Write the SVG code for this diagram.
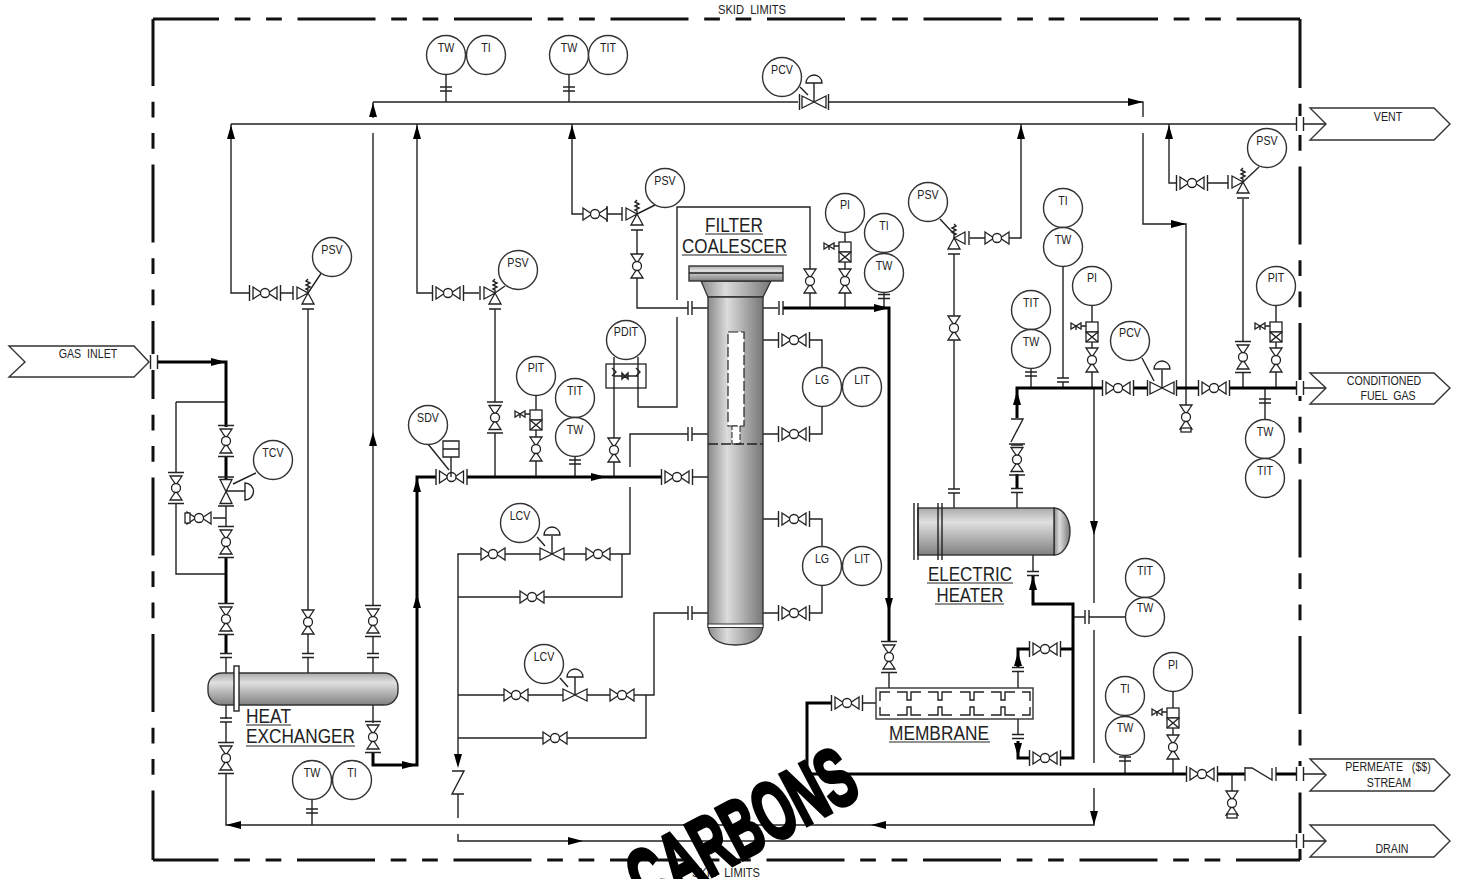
<svg xmlns="http://www.w3.org/2000/svg" xmlns:xlink="http://www.w3.org/1999/xlink" width="1457" height="879" viewBox="0 0 1457 879">
<style>
.t{fill:none;stroke:#222;stroke-width:1.4}
.k{fill:none;stroke:#000;stroke-width:3}
.s{fill:#fff;stroke:#222;stroke-width:1.3}
.b{fill:none;stroke:#111;stroke-width:3}
.o{fill:#fff;stroke:#333;stroke-width:1.4}
.e{stroke:#222;stroke-width:1.4}
text{font-family:"Liberation Sans",Arial,sans-serif;fill:#222;text-anchor:middle}
.i,.l{font-size:13px;transform-box:fill-box;transform-origin:center;transform:scaleX(.82)}
.sk{font-size:13px}
.h{font-size:20px}
.u{fill:none;stroke:#222;stroke-width:1.2}
</style>
<defs>
<linearGradient id="gv" x1="0" y1="0" x2="0" y2="1"><stop offset="0" stop-color="#aaa"/><stop offset=".3" stop-color="#e0e0e0"/><stop offset="1" stop-color="#808080"/></linearGradient>
<linearGradient id="gh" x1="0" y1="0" x2="1" y2="0"><stop offset="0" stop-color="#8a8a8a"/><stop offset=".35" stop-color="#dcdcdc"/><stop offset="1" stop-color="#777"/></linearGradient>
<g id="v"><path class="s" d="M-12,-6L-3,0L-12,6ZM12,-6L3,0L12,6Z"/><circle class="s" r="4.5"/></g>
<g id="vf"><use href="#v"/><path class="t" d="M-15.5,-8V8M15.5,-8V8"/></g>
<g id="vv"><use href="#v" transform="rotate(90)"/></g>
<g id="vfv"><use href="#vf" transform="rotate(90)"/></g>
<g id="c"><path class="s" d="M-12,-6L0,0L-12,6ZM12,-6L0,0L12,6Z"/></g>
<g id="cf"><use href="#c"/><path class="t" d="M-14.5,-8V8M14.5,-8V8"/></g>
<path id="dome" class="s" d="M-8,0a8,8 0 0 1 16,0Z"/>
<path id="fl" class="t" d="M-2,-7V7M2,-7V7"/>
<path id="fv" class="t" d="M-6,-2H6M-6,2H6"/>
<g id="fw"><rect x="-3.5" y="-8" width="7" height="16" fill="#fff"/><path class="t" d="M-3.5,-7V7M3.5,-7V7"/></g>
<polygon id="au" points="0,0 -4,14 4,14" fill="#000"/>
<polygon id="ad" points="0,0 -4,-14 4,-14" fill="#000"/>
<polygon id="ar" points="0,0 -15,-4 -15,4" fill="#000"/>
<polygon id="al" points="0,0 15,-4 15,4" fill="#000"/>
<g id="gb"><rect class="s" x="-6" y="0" width="12" height="10"/><rect class="s" x="-6" y="10" width="12" height="10"/><path class="t" d="M-6,10L6,20M6,10L-6,20M-6,4H-11"/><path class="s" d="M-21,0L-11,6V0L-21,6Z" transform="translate(0,1)"/><path class="t" d="M-16,4V8"/></g>
<g id="rv"><path class="s" d="M-11,-6L0,0L-11,6ZM-6,11L0,0L6,11Z"/><path class="t" d="M-15,-7V7M-6,16H6M0,0V-3L-2,-4L2,-6L-2,-8L2,-10L-2,-12L0,-14"/></g>
<path id="ck" class="t" d="M-6,-12H6L-6,11H6"/>
</defs>

<g id="skid-limits">
<path class="b" stroke-dasharray="78 15.7 15.7 15.7 15.7 15.7" stroke-dashoffset="12" d="M153,19H1300"/>
<path class="b" stroke-dasharray="78 15.7 15.7 15.7 15.7 15.7" stroke-dashoffset="11" d="M153,19V860"/>
<path class="b" stroke-dasharray="78 15.7 15.7 15.7 15.7 15.7" stroke-dashoffset="9" d="M1300,19V860"/>
<path class="b" stroke-dasharray="78 15.7 15.7 15.7 15.7 15.7" stroke-dashoffset="14" d="M1300,860H153"/>
<text class="sk" x="752" y="14" textLength="68" lengthAdjust="spacingAndGlyphs" xml:space="preserve">SKID  LIMITS</text>
<text class="sk" x="726" y="877" textLength="68" lengthAdjust="spacingAndGlyphs" xml:space="preserve">SKID  LIMITS</text>
</g>

<g id="connectors">
<path class="t" d="M231,124H1296M1304,124H1326M373,102H798M829,102H1143V117M1143,133V224H1186V405M373,102V118M373,133V606M373,637V653M373,658V673M231,124V293H250M280,293H293M308,309V610M308,634V653M308,658V673M417,124V293H433M463,293H479M495,309V402M495,433V477M572,124V214H583M607,206V222M607,214H622M637,230V254M637,278V308H688M692,308H708M176,402H226M176,402V473M176,503V574H226M226,506V526M226,518H213M226,558V603M226,658V673M226,705V719M226,722V743M226,773V825H1094V788M1094,763V630M1094,603V388M373,705V723M692,477H708M763,308H778M889,672V688M810,308V293M810,269V207H677V300M677,317V407H638V357M845,308V293M845,269V262M845,242V232M884,293V308M763,340H779M810,340H822V367M822,407V434H810M779,434H763M763,519H779M810,519H822V546M822,586V613H810M779,613H763M630,467V434H688M692,434H708M630,487V554H610M586,554H564M540,554H505M481,554H458V755M622,554V597H544M520,597H458M708,613H692M688,613H654V695H634M610,695H587M563,695H528M504,695H458M646,695V738H567M543,738H458M458,794V818M458,834V841H1297M1304,841H1326M954,508V493M954,489V340M954,316V254M970,238H985M1009,238H1021V124M1017,508V493M1304,388H1326M1033,555V572M1018,735V719M1018,671V688M1073,617H1085M1089,617H1125M876,703H862M1304,774H1326M1232,774V791M446,75V102M569,75V102M1031,369V388M1063,267V378M1063,382V388M1092,342V348M1092,372V388M1092,306V322M1276,306V322M1276,342V348M1276,372V388M1243,199V342M1243,372V388M1169,124V183H1177M1207,183H1228M1186,388V405M1265,388V419M1173,692V708M1173,728V735M1173,759V774M1125,756V774M536,395V410M536,430V437M536,461V477M575,457V477M312,800V825M614,357V438M614,462V477M552,554V536M575,695V677M814,102V83M1162,388V370"/>
<path class="k" d="M158,362H226V427M226,456V479M226,558V603M226,635V653M373,752V765H417V477H436M467,477H661M783,308H889V641M1017,488V474M1017,418V388H1103M1133,388H1147M1176,388H1198M1229,388H1296M1033,576V604H1073V758H1061M1030,758H1018V741M1073,649H1061M1030,649H1018V667M831,703H807V774H1187M1217,774H1245M1276,774H1296"/>
<use href="#ar" x="226" y="362"/><use href="#au" x="231" y="125"/><use href="#au" x="417" y="125"/><use href="#au" x="572" y="125"/><use href="#au" x="373" y="103"/><use href="#ar" x="1143" y="102"/><use href="#au" x="1021" y="125"/><use href="#au" x="1169" y="125"/><use href="#ar" x="1186" y="224"/><use href="#au" x="373" y="432"/><use href="#au" x="417" y="478"/><use href="#au" x="417" y="594"/><use href="#ar" x="417" y="765"/><use href="#ar" x="606" y="477"/><use href="#ar" x="889" y="308"/><use href="#ad" x="889" y="612"/><use href="#ad" x="458" y="768"/><use href="#ar" x="583" y="841"/><use href="#al" x="226" y="825"/><use href="#al" x="871" y="825"/><use href="#ad" x="1094" y="825"/><use href="#ad" x="1094" y="535"/><use href="#au" x="1017" y="391"/><use href="#au" x="1033" y="576"/><use href="#au" x="1018" y="652"/><use href="#ad" x="1018" y="757"/>
<use href="#fv" x="226" y="655.5"/><use href="#fv" x="308" y="655.5"/><use href="#fv" x="373" y="655.5"/><use href="#fv" x="226" y="720"/><use href="#fv" x="446" y="89"/><use href="#fv" x="569" y="89"/><use href="#fv" x="312" y="811"/><use href="#fv" x="575" y="462"/><use href="#fv" x="884" y="296.5"/><use href="#fv" x="954" y="491"/><use href="#fv" x="1017" y="490.5"/><use href="#fv" x="1033" y="573.5"/><use href="#fv" x="1018" y="736.5"/><use href="#fv" x="1018" y="669.5"/><use href="#fv" x="1031" y="374"/><use href="#fv" x="1063" y="380"/><use href="#fv" x="1265" y="401"/><use href="#fv" x="1125" y="759"/>
<use href="#fl" x="690" y="308"/><use href="#fl" x="690" y="434"/><use href="#fl" x="690" y="613"/><use href="#fl" x="781" y="308"/><use href="#fl" x="1087" y="617"/>
<use href="#fw" x="154" y="362"/><use href="#fw" x="1300" y="124"/><use href="#fw" x="1300" y="388"/><use href="#fw" x="1300" y="774"/><use href="#fw" x="1300" y="841"/>
<use href="#ck" x="458" y="783"/><path class="t" d="M1011,419H1023L1011,442M1011,445H1023"/>
</g>

<g id="valves">
<use id="v01" href="#vfv" x="226" y="441"/><use id="v02" href="#vfv" x="226" y="542"/><use id="v03" href="#vfv" x="226" y="619"/><use id="v04" href="#vfv" x="226" y="758"/><use id="v05" href="#vfv" x="176" y="488"/><use id="v06" href="#vv" x="308" y="622"/><use id="v07" href="#vfv" x="373" y="621"/><use id="v08" href="#vfv" x="373" y="737"/>
<use id="v09" href="#vf" x="265" y="293"/><use id="v10" href="#vf" x="448" y="293"/><use id="v11" href="#v" x="595" y="214"/><use id="v12" href="#vfv" x="495" y="417.5"/><use id="v13" href="#vv" x="637" y="266"/><use id="v14" href="#vf" x="451.5" y="477"/><use id="v15" href="#vf" x="677" y="477"/><use id="v16" href="#vv" x="536" y="449"/><use id="v17" href="#vv" x="614" y="450"/>
<use id="v18" href="#vv" x="810" y="281"/><use id="v19" href="#vv" x="845" y="281"/><use id="v20" href="#vf" x="794" y="340"/><use id="v21" href="#vf" x="794" y="434"/><use id="v22" href="#vf" x="794" y="519"/><use id="v23" href="#vf" x="794" y="613"/>
<use id="v24" href="#v" x="493" y="554"/><use id="v25" href="#v" x="598" y="554"/><use id="v26" href="#v" x="532" y="597"/><use id="v27" href="#v" x="516" y="695"/><use id="v28" href="#v" x="622" y="695"/><use id="v29" href="#v" x="555" y="738"/>
<use id="v30" href="#vfv" x="889" y="657"/><use id="v31" href="#vv" x="954" y="328"/><use id="v32" href="#v" x="997" y="238"/><use id="v33" href="#vfv" x="1017" y="459.5"/><use id="v34" href="#vf" x="1118" y="388"/><use id="v35" href="#vf" x="1214" y="388"/><use id="v36" href="#vv" x="1092" y="360"/><use id="v37" href="#vv" x="1276" y="360"/><use id="v38" href="#vfv" x="1243" y="357"/><use id="v39" href="#vf" x="1192" y="183"/><use id="v40" href="#vv" x="1186" y="417"/><use id="v41" href="#vf" x="1045" y="649"/><use id="v42" href="#vf" x="1045" y="758"/><use id="v43" href="#vf" x="847" y="703"/><use id="v44" href="#vf" x="1202" y="774"/><use id="v45" href="#vv" x="1173" y="747"/><use id="v46" href="#vv" x="1232" y="803"/>
<use id="v47" href="#v" x="199" y="518"/><rect class="s" x="185" y="513" width="5" height="10"/><rect class="s" x="1181" y="428" width="10" height="4"/><rect class="s" x="1227" y="814" width="10" height="4"/>
<use id="cv1" href="#c" x="552" y="554"/><use id="cv2" href="#c" x="575" y="695"/><use id="cv3" href="#cf" x="814" y="102"/><use id="cv4" href="#cf" x="1162" y="388"/><use id="cv5" href="#cf" transform="translate(226 491.5) rotate(90)"/>
<use href="#dome" x="552" y="535"/><use href="#dome" x="575" y="677"/><use href="#dome" x="814" y="83"/><use href="#dome" x="1162" y="369"/>
<path class="t" d="M226,491H245M245,483V500A8.500,8.500 0 0 0 245,483Z"/>
<path class="s" d="M443,441H459V457H443ZM443,449H459"/><path class="t" d="M451,457V477"/>
<use id="rv1" href="#rv" x="308" y="293"/><use id="rv2" href="#rv" x="495" y="293"/><use id="rv3" href="#rv" x="637" y="214"/><use id="rv4" href="#rv" x="1243" y="182"/><use id="rv5" href="#rv" transform="translate(954 238) scale(-1 1)"/>
<path class="s" d="M1245,767L1245,781M1245,768H1252L1272,780V768M1276,767V781"/>
<use href="#gb" x="536" y="410"/><use href="#gb" x="845" y="242"/><use href="#gb" x="1092" y="322"/><use href="#gb" x="1276" y="322"/><use href="#gb" x="1173" y="708"/>
</g>

<g id="heat-exchanger">
<rect x="208" y="673" width="190" height="32" rx="14" fill="url(#gv)" stroke="#333" stroke-width="1.4"/>
<rect x="234" y="666" width="5" height="45" fill="#fff" stroke="#222" stroke-width="1.4"/>
<text class="h" x="268.500" y="723" textLength="45" lengthAdjust="spacingAndGlyphs">HEAT</text>
<text class="h" x="300.500" y="743" textLength="109" lengthAdjust="spacingAndGlyphs">EXCHANGER</text>
<path class="u" d="M246,725H291M246,746H355"/>
</g>

<g id="filter-coalescer">
<path d="M701,281H771L763,297H708Z" fill="url(#gh)" stroke="#333" stroke-width="1.3"/>
<rect x="689" y="266" width="94" height="15" fill="url(#gv)" stroke="#333" stroke-width="1.4"/>
<path d="M689,273H783" class="t"/>
<path d="M708,297H763V624C763,640 750,645 735.500,645C721,645 708,640 708,624Z" fill="url(#gh)" stroke="#333" stroke-width="1.4"/>
<rect x="708" y="624" width="55" height="3.500" fill="#fff" stroke="#333" stroke-width="1"/>
<rect x="728" y="332" width="16" height="94" fill="#fff" stroke="#222" stroke-width="1.2" stroke-dasharray="10 3"/>
<rect x="732" y="426" width="8" height="18" fill="#fff" stroke="#222" stroke-width="1" stroke-dasharray="6 2"/>
<path d="M708,444H763" class="t" stroke-dasharray="10 3"/>
<text class="h" x="734" y="232" textLength="58" lengthAdjust="spacingAndGlyphs">FILTER</text>
<text class="h" x="734.500" y="253" textLength="105" lengthAdjust="spacingAndGlyphs">COALESCER</text>
<path class="u" d="M705,234H763M682,255H787"/>
</g>

<g id="electric-heater">
<path d="M1054,508A16,23.500 0 0 1 1054,555Z" fill="url(#gh)" stroke="#333" stroke-width="1.4"/>
<rect x="918" y="508" width="136" height="47" fill="url(#gv)" stroke="#333" stroke-width="1.4"/>
<path class="t" d="M914,503V560M918,503V560M938,503V560M942,503V560"/>
<text class="h" x="970" y="581" textLength="84" lengthAdjust="spacingAndGlyphs">ELECTRIC</text>
<text class="h" x="970" y="602" textLength="67" lengthAdjust="spacingAndGlyphs">HEATER</text>
<path class="u" d="M927,583H1013M935,604H1004"/>
</g>

<g id="membrane">
<rect x="876" y="688" width="157" height="31" fill="#fff" stroke="#333" stroke-width="1.4"/>
<path class="t" d="M880,701V692H890M897,692H907V700H911V692H921M928,692H938V700H942V692H952M960,692H970V700H974V692H984M991,692H1001V700H1005V692H1015M1022,692H1030V701M880,707V715H890M897,715H907V707H911V715H921M928,715H938V707H942V715H952M960,715H970V707H974V715H984M991,715H1001V707H1005V715H1015M1022,715H1030V707"/>
<text class="h" x="939" y="740" textLength="100" lengthAdjust="spacingAndGlyphs">MEMBRANE</text>
<path class="u" d="M889,742H990"/>
</g>

<g id="pdit-manifold">
<rect x="606" y="364" width="40" height="24" fill="#fff" stroke="#222" stroke-width="1.3"/>
<path class="t" d="M614,364V388M638,364V388M614,376H638"/>
<path class="t" d="M612,368L616,372L612,376M636,368L640,372L636,376M622,373L628,379V373L622,379Z"/>
</g>

<g id="streams">
<g id="s-gas"><polygon class="o" points="9,346 134,346 149,362 134,377 9,377 25,362"/><text class="l" x="88" y="358" xml:space="preserve">GAS  INLET</text></g>
<g id="s-vent"><polygon class="o" points="1310,108 1434,108 1450,124 1434,140 1310,140 1326,124"/><text class="l" x="1388" y="121">VENT</text></g>
<g id="s-cond"><polygon class="o" points="1310,373 1434,373 1450,388 1434,404 1310,404 1326,388"/><text class="l" x="1384" y="385">CONDITIONED</text><text class="l" x="1388" y="400" xml:space="preserve">FUEL  GAS</text></g>
<g id="s-perm"><polygon class="o" points="1310,759 1434,759 1450,775 1434,791 1310,791 1326,775"/><text class="l" x="1388" y="771" xml:space="preserve">PERMEATE   ($$)</text><text class="l" x="1389" y="787">STREAM</text></g>
<g id="s-drain"><polygon class="o" points="1310,825 1434,825 1450,841 1434,857 1310,857 1326,841"/><text class="l" x="1392" y="853">DRAIN</text></g>
</g>

<g id="instruments">
<g id="i01"><circle class="o" cx="446" cy="55" r="19.500"/><text class="i" x="446" y="52">TW</text></g>
<g id="i02"><circle class="o" cx="486" cy="55" r="19.500"/><text class="i" x="486" y="52">TI</text></g>
<g id="i03"><circle class="o" cx="569" cy="55" r="19.500"/><text class="i" x="569" y="52">TW</text></g>
<g id="i04"><circle class="o" cx="608" cy="55" r="19.500"/><text class="i" x="608" y="52">TIT</text></g>
<g id="i05"><path class="t" d="M800,87L808,95"/><circle class="o" cx="782" cy="77" r="19.500"/><text class="i" x="782" y="74">PCV</text></g>
<g id="i06"><path class="t" d="M308,293L322,272"/><circle class="o" cx="332" cy="257" r="19.500"/><text class="i" x="332" y="254">PSV</text></g>
<g id="i07"><path class="t" d="M495,293L505,286"/><circle class="o" cx="518" cy="270" r="19.500"/><text class="i" x="518" y="267">PSV</text></g>
<g id="i08"><path class="t" d="M637,214L655,205"/><circle class="o" cx="665" cy="188" r="19.500"/><text class="i" x="665" y="185">PSV</text></g>
<g id="i09"><path class="t" d="M233,484L256,473"/><circle class="o" cx="273" cy="460" r="19.500"/><text class="i" x="273" y="457">TCV</text></g>
<g id="i10"><path class="t" d="M428,444L449,470"/><circle class="o" cx="428" cy="425" r="19.500"/><text class="i" x="428" y="422">SDV</text></g>
<g id="i11"><circle class="o" cx="536" cy="376" r="19.500"/><text class="i" x="536" y="372">PIT</text></g>
<g id="i12"><circle class="o" cx="575" cy="398" r="19.500"/><text class="i" x="575" y="395">TIT</text></g>
<g id="i13"><circle class="o" cx="575" cy="437" r="19.500"/><text class="i" x="575" y="434">TW</text></g>
<g id="i14"><circle class="o" cx="626" cy="340" r="19.500"/><text class="i" x="626" y="336">PDIT</text></g>
<g id="i15"><circle class="o" cx="845" cy="213" r="19.500"/><text class="i" x="845" y="209">PI</text></g>
<g id="i16"><circle class="o" cx="884" cy="233" r="19.500"/><text class="i" x="884" y="230">TI</text></g>
<g id="i17"><circle class="o" cx="884" cy="273" r="19.500"/><text class="i" x="884" y="270">TW</text></g>
<g id="i18"><circle class="o" cx="822" cy="387" r="19.500"/><text class="i" x="822" y="384">LG</text></g>
<g id="i19"><circle class="o" cx="862" cy="387" r="19.500"/><text class="i" x="862" y="384">LIT</text></g>
<g id="i20"><circle class="o" cx="822" cy="566" r="19.500"/><text class="i" x="822" y="563">LG</text></g>
<g id="i21"><circle class="o" cx="862" cy="566" r="19.500"/><text class="i" x="862" y="563">LIT</text></g>
<g id="i22"><path class="t" d="M537,537L545,546"/><circle class="o" cx="520" cy="523" r="19.500"/><text class="i" x="520" y="520">LCV</text></g>
<g id="i23"><path class="t" d="M560,678L568,687"/><circle class="o" cx="544" cy="664" r="19.500"/><text class="i" x="544" y="661">LCV</text></g>
<g id="i24"><circle class="o" cx="312" cy="780" r="19.500"/><text class="i" x="312" y="777">TW</text></g>
<g id="i25"><circle class="o" cx="352" cy="780" r="19.500"/><text class="i" x="352" y="777">TI</text></g>
<g id="i26"><path class="t" d="M940,219L954,234"/><circle class="o" cx="928" cy="202" r="19.500"/><text class="i" x="928" y="199">PSV</text></g>
<g id="i27"><circle class="o" cx="1063" cy="208" r="19.500"/><text class="i" x="1063" y="205">TI</text></g>
<g id="i28"><circle class="o" cx="1063" cy="247" r="19.500"/><text class="i" x="1063" y="244">TW</text></g>
<g id="i29"><circle class="o" cx="1031" cy="310" r="19.500"/><text class="i" x="1031" y="307">TIT</text></g>
<g id="i30"><circle class="o" cx="1031" cy="349" r="19.500"/><text class="i" x="1031" y="346">TW</text></g>
<g id="i31"><circle class="o" cx="1092" cy="286" r="19.500"/><text class="i" x="1092" y="282">PI</text></g>
<g id="i32"><path class="t" d="M1142,358L1154,381"/><circle class="o" cx="1130" cy="341" r="19.500"/><text class="i" x="1130" y="337">PCV</text></g>
<g id="i33"><path class="t" d="M1243,182L1259,167"/><circle class="o" cx="1267" cy="148" r="19.500"/><text class="i" x="1267" y="145">PSV</text></g>
<g id="i34"><circle class="o" cx="1276" cy="286" r="19.500"/><text class="i" x="1276" y="282">PIT</text></g>
<g id="i35"><circle class="o" cx="1265" cy="439" r="19.500"/><text class="i" x="1265" y="436">TW</text></g>
<g id="i36"><circle class="o" cx="1265" cy="478" r="19.500"/><text class="i" x="1265" y="475">TIT</text></g>
<g id="i37"><circle class="o" cx="1145" cy="578" r="19.500"/><text class="i" x="1145" y="575">TIT</text></g>
<g id="i38"><circle class="o" cx="1145" cy="617" r="19.500"/><text class="i" x="1145" y="612">TW</text></g>
<g id="i39"><circle class="o" cx="1125" cy="696" r="19.500"/><text class="i" x="1125" y="693">TI</text></g>
<g id="i40"><circle class="o" cx="1125" cy="736" r="19.500"/><text class="i" x="1125" y="732">TW</text></g>
<g id="i41"><circle class="o" cx="1173" cy="672" r="19.500"/><text class="i" x="1173" y="669">PI</text></g>
</g>

<g id="watermark">
<text x="755" y="853" transform="rotate(-28 755 853)" font-size="83" textLength="245" lengthAdjust="spacingAndGlyphs" style="font-weight:bold;fill:#000;stroke:#000;stroke-width:4">CARBONS</text>
</g>
</svg>
